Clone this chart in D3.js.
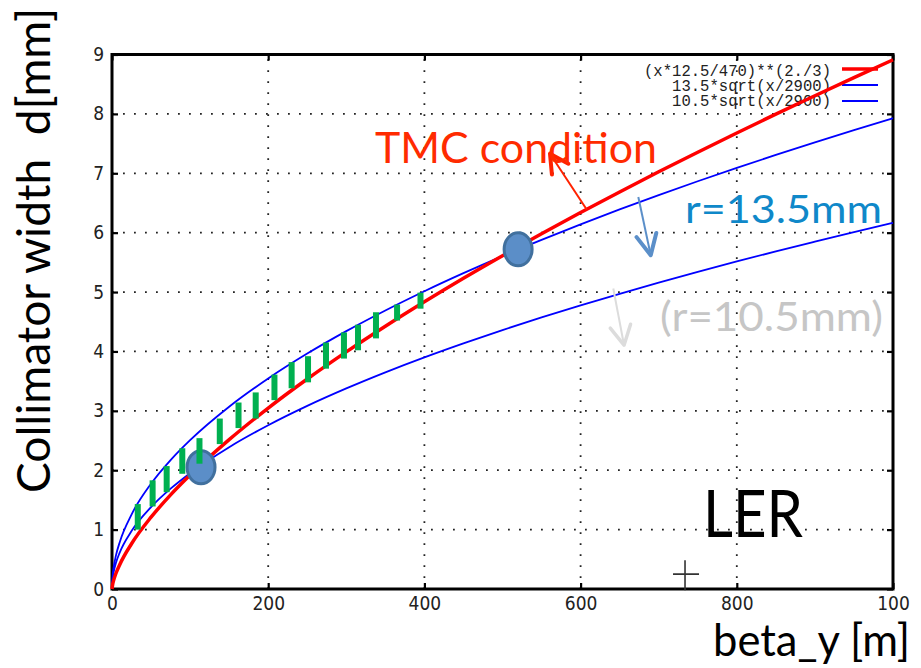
<!DOCTYPE html>
<html>
<head>
<meta charset="utf-8">
<script src="https://cdn.jsdelivr.net/npm/d3@7"></script>
<style>
  body { margin: 0; background: #fff; }
  svg { display: block; }
</style>
</head>
<body>
<div id="container"></div>
<script>
// Data
var betaY      = [0, 1, 2, 5, 10, 25, 50, 75, 100, 150, 200, 250, 300, 350, 400, 450, 500, 550, 600, 650, 700, 750, 800, 850, 900, 950, 1000];
var tmcCond    = [0, 0.089, 0.141, 0.261, 0.414, 0.762, 1.209, 1.585, 1.919, 2.515, 3.047, 3.536, 3.993, 4.425, 4.837, 5.233, 5.613, 5.982, 6.339, 6.686, 7.025, 7.355, 7.679, 7.996, 8.305, 8.611, 8.911];
var width135   = [0, 0.251, 0.355, 0.561, 0.793, 1.253, 1.773, 2.171, 2.507, 3.070, 3.545, 3.964, 4.342, 4.690, 5.014, 5.318, 5.606, 5.879, 6.141, 6.392, 6.633, 6.866, 7.091, 7.309, 7.521, 7.727, 7.928];
var width105   = [0, 0.195, 0.276, 0.436, 0.617, 0.975, 1.379, 1.689, 1.950, 2.388, 2.757, 3.083, 3.377, 3.648, 3.900, 4.136, 4.360, 4.573, 4.776, 4.971, 5.159, 5.340, 5.515, 5.685, 5.849, 6.010, 6.166];

// green bars (beta, top, bottom)
var barX   = [33, 52, 70, 90, 112, 138, 162, 184, 208, 230, 251, 274, 297, 315, 338, 365, 395];
var barTop = [1.43, 1.83, 2.07, 2.37, 2.54, 2.87, 3.14, 3.31, 3.61, 3.82, 3.92, 4.15, 4.32, 4.45, 4.66, 4.79, 4.99];
var barBot = [1.00, 1.39, 1.63, 1.94, 2.11, 2.44, 2.71, 2.87, 3.18, 3.38, 3.48, 3.71, 3.88, 4.02, 4.22, 4.52, 4.72];

// marked points
var pointX = [114, 520];
var pointY = [2.05, 5.72];

var xTicks = [0, 200, 400, 600, 800, 1000];
var xTickLabels = ["0", "200", "400", "600", "800", "100"];
var yTicks = [0, 1, 2, 3, 4, 5, 6, 7, 8, 9];
var legendLabels = ["(x*12.5/470)**(2./3)", "13.5*sqrt(x/2900)", "10.5*sqrt(x/2900)"];

var w = 921, h = 668;
var x = d3.scaleLinear().domain([0, 1000]).range([112, 893]);
var y = d3.scaleLinear().domain([0, 9]).range([589, 54.5]);

var svg = d3.select("#container").append("svg")
	.attr("width", w)
	.attr("height", h);

var tickFont = "'Liberation Sans Narrow', 'DejaVu Sans Condensed', sans-serif";
var bigFont = "Lato, 'Open Sans', sans-serif";

// Grid (dotted)
svg.append("g").selectAll("line")
	.data(xTicks.slice(1, -1))
	.enter().append("line")
	.attr("x1", function(d) { return x(d); }).attr("x2", function(d) { return x(d); })
	.attr("y1", y(0)).attr("y2", y(9))
	.attr("stroke", "#222").attr("stroke-width", 1.8)
	.attr("stroke-dasharray", "1.8,9.2");
svg.append("g").selectAll("line")
	.data(yTicks.slice(1, -1))
	.enter().append("line")
	.attr("y1", function(d) { return y(d); }).attr("y2", function(d) { return y(d); })
	.attr("x1", x(0)).attr("x2", x(1000))
	.attr("stroke", "#222").attr("stroke-width", 1.8)
	.attr("stroke-dasharray", "1.8,9.2");

// Axes
var gx = svg.append("g").attr("transform", "translate(0," + y(0) + ")")
	.call(d3.axisBottom(x).tickValues(xTicks).tickSize(-6).tickPadding(8)
		.tickFormat(function(d, i) { return xTickLabels[i]; }));
var gy = svg.append("g").attr("transform", "translate(" + x(0) + ",0)")
	.call(d3.axisLeft(y).tickValues(yTicks).tickSize(-6).tickPadding(8));
var gt = svg.append("g").attr("transform", "translate(0," + y(9) + ")")
	.call(d3.axisTop(x).tickValues(xTicks).tickSize(-6).tickFormat(""));
var gr = svg.append("g").attr("transform", "translate(" + x(1000) + ",0)")
	.call(d3.axisRight(y).tickValues(yTicks).tickSize(-6).tickFormat(""));

[gx, gy, gt, gr].forEach(function(g) {
	g.select(".domain").remove();
	g.selectAll(".tick line").attr("stroke", "#000").attr("stroke-width", 2.2);
	g.selectAll("text")
		.attr("font-family", tickFont)
		.attr("font-size", 19)
		.attr("fill", "#222");
});

// Frame
svg.append("rect")
	.attr("x", x(0)).attr("y", y(9))
	.attr("width", x(1000) - x(0)).attr("height", y(0) - y(9))
	.attr("fill", "none").attr("stroke", "#000").attr("stroke-width", 3);

// Legend
var legendColors = ["#ff0000", "#0000ff", "#0000ff"];
var legendWidths = [3.5, 2, 2];
var legendBase = [76, 91, 106];
var legendLine = [69, 85, 101];
svg.append("g").selectAll("text")
	.data(legendLabels)
	.enter().append("text")
	.attr("x", 831)
	.attr("y", function(d, i) { return legendBase[i]; })
	.attr("text-anchor", "end")
	.attr("font-family", "'Liberation Mono', 'DejaVu Sans Mono', monospace")
	.attr("font-size", 17)
	.attr("textLength", function(d) { return d.length * 9.35; })
	.attr("lengthAdjust", "spacingAndGlyphs")
	.attr("fill", "#222")
	.text(function(d) { return d; });
svg.append("g").selectAll("line")
	.data(legendLabels)
	.enter().append("line")
	.attr("x1", 842).attr("x2", 878)
	.attr("y1", function(d, i) { return legendLine[i]; })
	.attr("y2", function(d, i) { return legendLine[i]; })
	.attr("stroke", function(d, i) { return legendColors[i]; })
	.attr("stroke-width", function(d, i) { return legendWidths[i]; });

// Curves
function curve(vals) {
	return d3.line()
		.x(function(d, i) { return x(betaY[i]); })
		.y(function(d) { return y(d); })
		.curve(d3.curveMonotoneX)(vals);
}
svg.append("path").attr("d", curve(width135))
	.attr("fill", "none").attr("stroke", "#0000ff").attr("stroke-width", 1.8);
svg.append("path").attr("d", curve(width105))
	.attr("fill", "none").attr("stroke", "#0000ff").attr("stroke-width", 1.8);
svg.append("path").attr("d", curve(tmcCond))
	.attr("fill", "none").attr("stroke", "#ff0000").attr("stroke-width", 3.5);

// Marked points
svg.append("g").selectAll("ellipse")
	.data(pointX)
	.enter().append("ellipse")
	.attr("cx", function(d) { return x(d); })
	.attr("cy", function(d, i) { return y(pointY[i]); })
	.attr("rx", 14)
	.attr("ry", 16.5)
	.attr("fill", "#5b8ec8")
	.attr("stroke", "#41709e")
	.attr("stroke-width", 3);

// Green bars
svg.append("g").selectAll("rect")
	.data(barX)
	.enter().append("rect")
	.attr("x", function(d) { return x(d) - 3; })
	.attr("y", function(d, i) { return y(barTop[i]); })
	.attr("width", 6)
	.attr("height", function(d, i) { return y(barBot[i]) - y(barTop[i]); })
	.attr("fill", "#00b050");

// Cross marker
var crossX = 733.7, crossY = 0.25;
svg.append("path")
	.attr("d", "M" + (x(crossX) - 12) + "," + y(crossY) + "H" + (x(crossX) + 14) +
		"M" + x(crossX) + "," + (y(crossY) - 14) + "V" + (y(crossY) + 16))
	.attr("stroke", "#333").attr("stroke-width", 1.6).attr("fill", "none");

// Annotation arrows: [startBeta, startD, tipBeta, tipD]
var arrows = [
	{ s: [607.8, 6.39], t: [560.8, 7.33], color: "#ff2200", w: 2, hw: 4, spread: 28, len: 21 },
	{ s: [673.9, 6.60], t: [689.8, 5.62], color: "#5b8fc9", w: 2, hw: 4, spread: 26, len: 23 },
	{ s: [641.9, 5.06], t: [655.6, 4.105], color: "#dcdcdc", w: 2, hw: 3.5, spread: 28, len: 22 }
];
arrows.forEach(function(a) {
	var sx = x(a.s[0]), sy = y(a.s[1]), tx = x(a.t[0]), ty = y(a.t[1]);
	var ang = Math.atan2(sy - ty, sx - tx);
	var r = a.spread * Math.PI / 180;
	svg.append("line")
		.attr("x1", sx).attr("y1", sy).attr("x2", tx).attr("y2", ty)
		.attr("stroke", a.color).attr("stroke-width", a.w);
	svg.append("path")
		.attr("d", "M" + (tx + a.len * Math.cos(ang - r)) + "," + (ty + a.len * Math.sin(ang - r)) +
			"L" + tx + "," + ty +
			"L" + (tx + a.len * Math.cos(ang + r)) + "," + (ty + a.len * Math.sin(ang + r)))
		.attr("fill", "none").attr("stroke", a.color).attr("stroke-width", a.hw)
		.attr("stroke-linecap", "round").attr("stroke-linejoin", "round");
});

// Labels
function label(txt, px, py, size, len, color) {
	return svg.append("text")
		.attr("x", px).attr("y", py)
		.attr("font-family", bigFont)
		.attr("font-size", size)
		.attr("textLength", len)
		.attr("lengthAdjust", "spacingAndGlyphs")
		.attr("fill", color)
		.text(txt);
}
label("TMC condition", 375, 163, 43, 282, "#ff2b00");
label("r=13.5mm", 685, 223, 39, 197, "#0f88c9");
label("(r=10.5mm)", 660, 331, 40, 223, "#c6c6c6");
label("LER", 703, 537, 65, 100, "#000");
label("beta_y [m]", 713, 656, 44, 197, "#000");

svg.append("text")
	.attr("transform", "translate(50,250.5) rotate(-90)")
	.attr("text-anchor", "middle")
	.attr("font-family", bigFont)
	.attr("font-size", 46)
	.attr("textLength", 485)
	.attr("lengthAdjust", "spacingAndGlyphs")
	.attr("fill", "#000")
	.style("white-space", "pre")
	.text("Collimator width  d[mm]");
</script>
</body>
</html>
